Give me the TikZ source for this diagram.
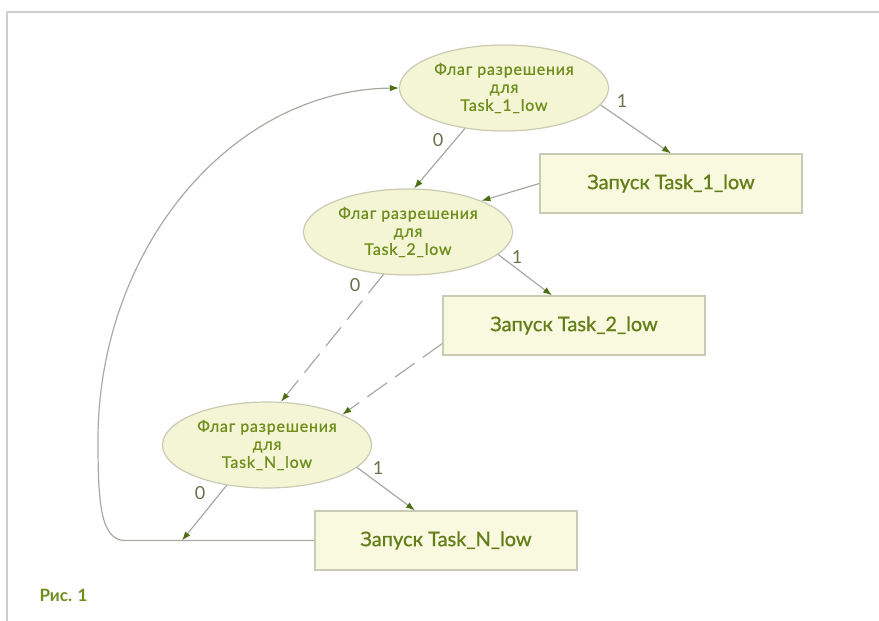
\documentclass[tikz,border=0pt]{standalone}
\usepackage{fontspec}
\setmainfont{Lato}
\newfontfamily\ellfont[LetterSpace=5,FakeBold=0.8]{Lato}
\newfontfamily\boxfont[FakeBold=0.8]{Lato}
\usetikzlibrary{shapes.geometric,arrows.meta,calc}
\definecolor{linegray}{HTML}{A9A9A4}
\definecolor{tipgreen}{HTML}{4E6E12}
\definecolor{txtgreen}{HTML}{6F8E1C}
\definecolor{boxtxt}{HTML}{637E18}
\definecolor{lblgray}{HTML}{6A704A}
\definecolor{ellfill}{HTML}{F3F5D5}
\definecolor{boxfill}{HTML}{F8F9DE}
\definecolor{bordergray}{HTML}{C9CBB4}
\definecolor{framegray}{HTML}{CFCFCF}
\begin{document}
\begin{tikzpicture}[x=1pt,y=-1pt,
  flag/.style={ellipse, draw=bordergray, line width=1.2pt, fill=ellfill,
    minimum width=209pt, minimum height=86pt, inner sep=0pt, align=center,
    text=txtgreen, font=\ellfont\fontsize{16}{18}\selectfont},
  runbox/.style={rectangle, draw=bordergray, line width=1.2pt, fill=boxfill,
    minimum width=262pt, minimum height=59pt, inner sep=0pt,
    text=boxtxt, font=\boxfont\fontsize{20}{24}\selectfont},
  conn/.style={draw=linegray, line width=1.2pt,
    -{Latex[length=9pt,width=6.5pt,color=tipgreen]}},
  dconn/.style={conn, dash pattern=on 24pt off 10pt},
  lbl/.style={text=lblgray, font=\fontsize{18}{20}\selectfont, inner sep=0pt}
]
\useasboundingbox[fill=white] (0,0) rectangle (879,621);
\draw[framegray, line width=2pt] (879,12) -- (7,12) -- (7,621);

\node[flag] (e1) at (504,88) {Флаг разрешения\\для\\Task\_1\_low};
\node[flag] (e2) at (408,232) {Флаг разрешения\\для\\Task\_2\_low};
\node[flag] (eN) at (267,445) {Флаг разрешения\\для\\Task\_N\_low};
\node[runbox] (b1) at (671,183.5) {Запуск Task\_1\_low};
\node[runbox] (b2) at (574,325.5) {Запуск Task\_2\_low};
\node[runbox] (bN) at (446,540.5) {Запуск Task\_N\_low};
\coordinate (c0) at (182,540.5);

\draw[conn] (e1.-10) -- (b1.north);
\draw[conn] (e1.-134) -- (e2.82);
\draw[conn] (b1.west) -- (e2.23);
\draw[conn] (e2.-14) -- ([xshift=-22pt]b2.north);
\draw[dconn] (e2.-120) -- (eN.72);
\draw[dconn] ([yshift=-18pt]b2.west) -- (eN.22);
\draw[conn] (eN.-135) -- (c0);
\draw[conn] (eN.-14) -- ([xshift=-31pt]bN.north);
\draw[conn] (bN.west) -- (125,540.5) .. controls (100,540.5) and (98,500) .. (98,440)
   .. controls (98,250) and (230,90) .. (e1.west);

\node[lbl] (l1) at (622,101) {1};
\node[lbl] (l2) at (438,140) {0};
\node[lbl] (l3) at (517,257) {1};
\node[lbl] (l4) at (355,285) {0};
\node[lbl] (l5) at (378,468) {1};
\node[lbl] (l6) at (200,493) {0};

\node[text=txtgreen, font=\fontsize{17}{19}\selectfont\bfseries, anchor=west] (fig) at (36,595) {Рис. 1};
\end{tikzpicture}
\end{document}
